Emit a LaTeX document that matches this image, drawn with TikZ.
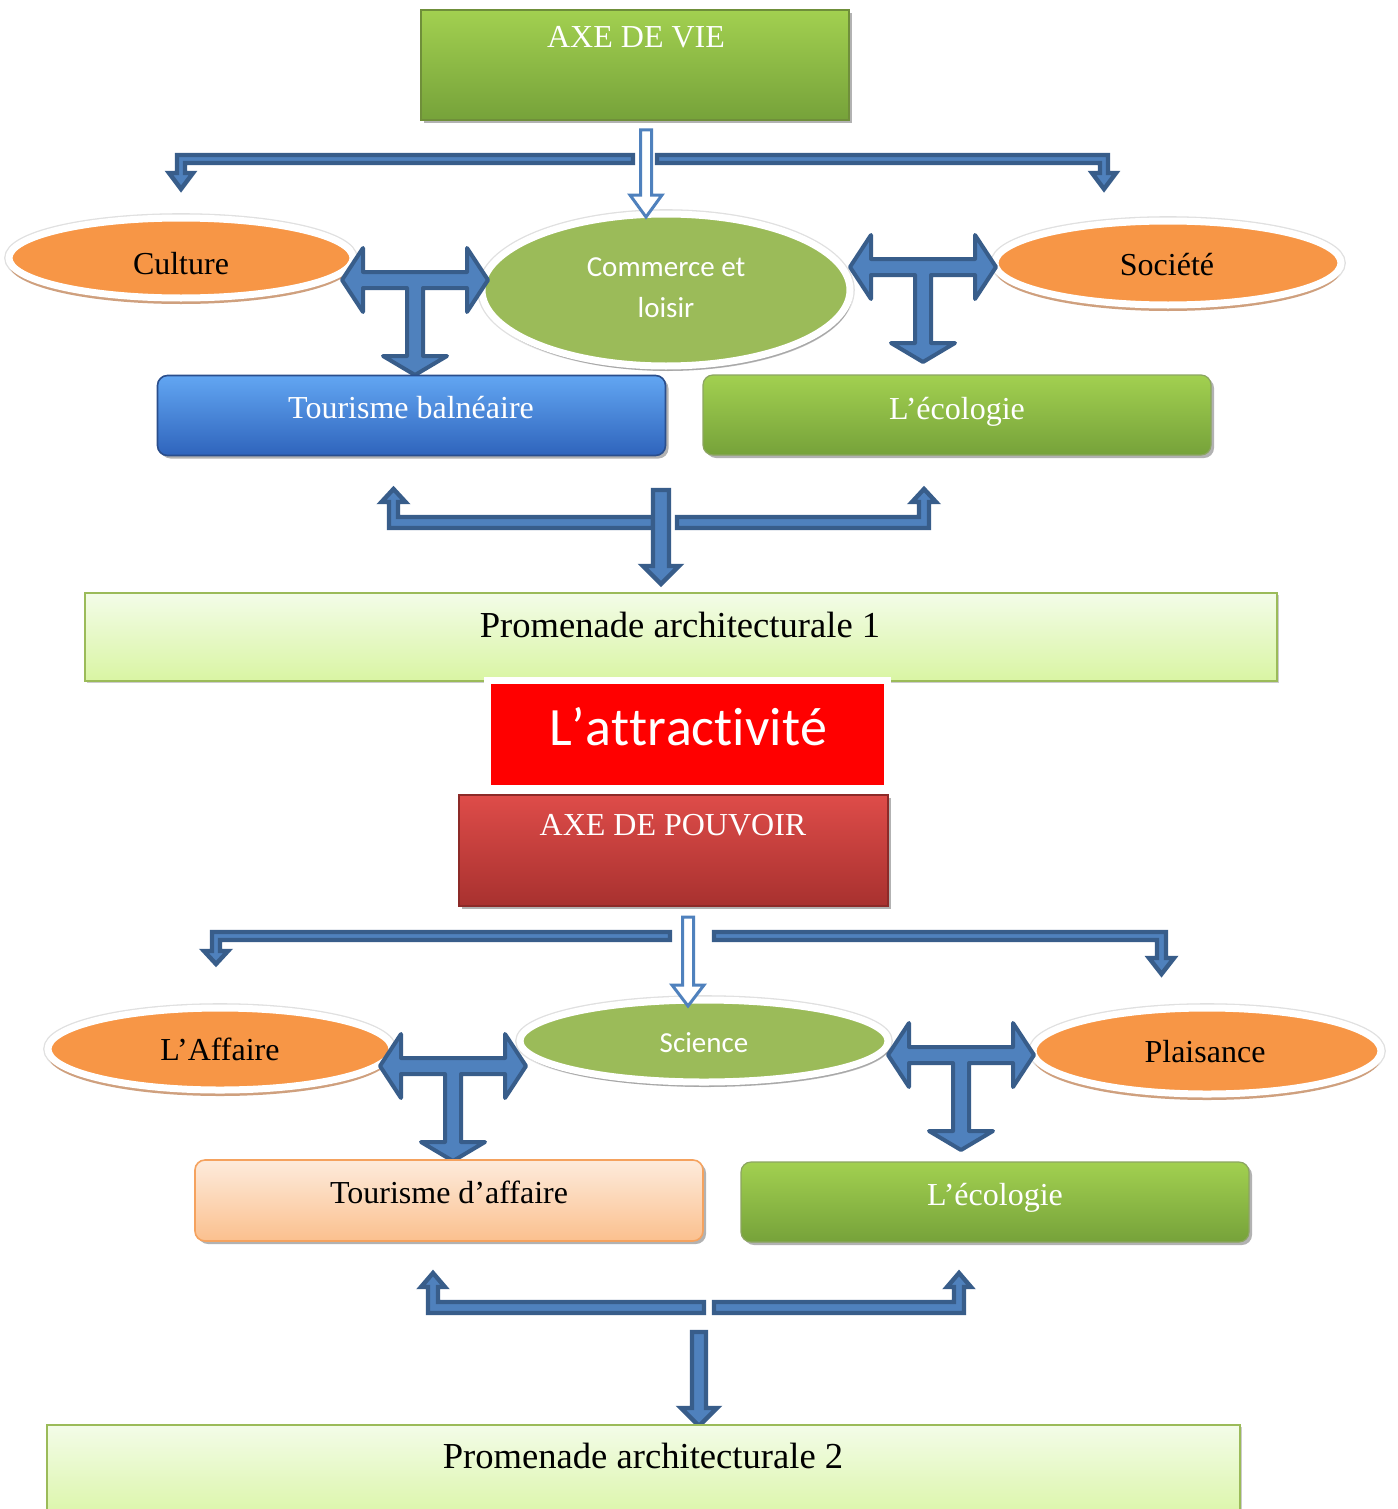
\documentclass[tikz,border=0pt]{standalone}
\usepackage{fontspec}
\setmainfont{Liberation Serif}
\newfontfamily\calib{Carlito}
\newfontfamily\calibwide[Kerning=Off,Ligatures={NoCommon}]{Carlito}
\usetikzlibrary{shapes.geometric,shadows}

\definecolor{arrFill}{HTML}{4F81BD}
\definecolor{arrLine}{HTML}{385D8A}
\definecolor{ovOrange}{HTML}{F79646}
\definecolor{ovTan}{HTML}{CFA07E}
\definecolor{ovGreen}{HTML}{9BBB59}
\definecolor{gTop}{HTML}{A2D050}
\definecolor{gBot}{HTML}{76A23A}
\definecolor{gLine}{HTML}{6F8F3A}
\definecolor{bTop}{HTML}{62A6F2}
\definecolor{bBot}{HTML}{2F64BC}
\definecolor{bLine}{HTML}{2A4E8C}
\definecolor{rTop}{HTML}{DE4C49}
\definecolor{rBot}{HTML}{A8312F}
\definecolor{rLine}{HTML}{8C2A28}
\definecolor{pTop}{HTML}{FDEBDC}
\definecolor{pBot}{HTML}{FBC08E}
\definecolor{pLine}{HTML}{F5A25E}
\definecolor{lTop}{HTML}{F3FCE8}
\definecolor{lBot}{HTML}{D9F5A3}
\definecolor{lLine}{HTML}{9BBB59}
\definecolor{attRed}{HTML}{FF0000}

\tikzset{
  box/.style={rectangle, inner sep=0pt, line width=0.6pt},
  softshadow/.style={drop shadow={shadow xshift=1.5pt, shadow yshift=-1.5pt, opacity=0.3, fill=black}},
  greenbox/.style={box, top color=gTop, bottom color=gBot, draw=gLine, softshadow},
  redbox/.style={box, top color=rTop, bottom color=rBot, draw=rLine, softshadow},
  bluebox/.style={box, rounded corners=5pt, top color=bTop, bottom color=bBot, draw=bLine, line width=0.8pt, softshadow},
  ecobox/.style={box, rounded corners=5pt, top color=gTop, bottom color=gBot, draw=gLine!80, softshadow},
  peachbox/.style={box, rounded corners=5pt, top color=pTop, bottom color=pBot, draw=pLine, line width=0.8pt, softshadow},
  limebox/.style={box, top color=lTop, bottom color=lBot, draw=lLine, line width=0.8pt,
    drop shadow={shadow xshift=1pt, shadow yshift=-1pt, opacity=0.2, fill=black}},
  attbox/.style={box, fill=attRed, draw=white, line width=3.5pt,
    drop shadow={shadow xshift=1pt, shadow yshift=-1.2pt, opacity=0.25, fill=black}},
  ovalbase/.style={ellipse, inner sep=0pt, draw=white, line width=3.5pt,
    preaction={draw=black!12, line width=4.8pt}},
  orangeoval/.style={ovalbase, fill=ovOrange,
    drop shadow={shadow xshift=0pt, shadow yshift=-3pt, opacity=1, fill=ovTan}},
  greenoval/.style={ovalbase, fill=ovGreen,
    drop shadow={shadow xshift=1pt, shadow yshift=-2.5pt, opacity=0.25, fill=black}},
  txt/.style={anchor=base, inner sep=0pt, font=\fontsize{16}{19}\selectfont},
  bigtxt/.style={anchor=base, inner sep=0pt, font=\fontsize{18.3}{21}\selectfont},
  sanstxt/.style={inner sep=0pt, text=white, align=center, font=\calib\fontsize{14.5}{20.5}\selectfont},
  thinarrow/.style={fill=arrFill, draw=arrLine, line width=2.2pt, line join=miter},
  hollowarrow/.style={fill=white, draw=arrFill, line width=1.5pt, line join=miter},
  tblock/.style={fill=arrFill, draw=arrLine, line width=2pt, line join=round},
  teearrow/.pic={
    \filldraw[tblock] (-73,0) -- (-52,-32) -- (-52,-8) -- (52,-8) -- (52,-32) -- (73,0)
      -- (52,32) -- (52,8) -- (8,8) -- (8,76) -- (32,76) -- (0,95) -- (-32,76)
      -- (-8,76) -- (-8,8) -- (-52,8) -- (-52,32) -- cycle;
  }
}

\begin{document}
\begin{tikzpicture}[x=0.5pt, y=-0.5pt]
\fill[white] (0,0) rectangle (1397,1509);
\path[use as bounding box] (0,0) rectangle (1397,1509);

% ---------------- Axe de vie ----------------
\node[greenbox, minimum width=214pt, minimum height=55pt] (axevie) at (635,65) {};
\node[txt, text=white] (axevie-t) at (636,48) {AXE DE VIE};

% branch arrows below the axis box
\filldraw[thinarrow] (633,155) -- (177,155) -- (177,173) -- (169,173) -- (181,189)
  -- (193,173) -- (185,173) -- (185,163) -- (633,163) -- cycle;
\filldraw[thinarrow] (657,155) -- (1108,155) -- (1108,173) -- (1116,173) -- (1104,189)
  -- (1092,173) -- (1100,173) -- (1100,163) -- (657,163) -- cycle;

% themes
\node[orangeoval, minimum width=172pt, minimum height=40pt] (culture) at (181,258) {};
\node[txt] (culture-t) at (181,274) {Culture};
\node[orangeoval, minimum width=173pt, minimum height=42pt] (societe) at (1168,263) {};
\node[txt] (societe-t) at (1167,275) {Société};
\node[greenoval, minimum width=184pt, minimum height=76pt] (commerce) at (666,290) {};
\node[sanstxt] (commerce-t) at (666,288) {Commerce et\\loisir};

\filldraw[hollowarrow] (640.5,130) -- (651.5,130) -- (651.5,195) -- (662,195) -- (646,217)
  -- (630,195) -- (640.5,195) -- cycle;

\pic at (415,280) {teearrow};
\pic at (923,267) {teearrow};

\node[bluebox, minimum width=254pt, minimum height=40pt] (balneaire) at (411.5,415.5) {};
\node[txt, text=white] (balneaire-t) at (411,418) {Tourisme balnéaire};
\node[ecobox, minimum width=254pt, minimum height=40pt] (eco1) at (957,415) {};
\node[txt, text=white] (eco1-t) at (957,419) {L’écologie};

% gathering arrows towards the first walk
\filldraw[thinarrow] (653,517) -- (398,517) -- (398,502) -- (405.5,502) -- (393.5,489)
  -- (381.5,502) -- (389,502) -- (389,528) -- (653,528) -- cycle;
\filldraw[thinarrow] (677,517) -- (919,517) -- (919,502) -- (912,502) -- (924,489)
  -- (936,502) -- (929,502) -- (929,528) -- (677,528) -- cycle;
\filldraw[thinarrow] (653,490) -- (669,490) -- (669,566) -- (679,566) -- (661,584)
  -- (643,566) -- (653,566) -- cycle;

\node[limebox, minimum width=596pt, minimum height=44pt] (prom1) at (681,637) {};
\node[bigtxt] (prom1-t) at (680,637) {Promenade architecturale 1};

% ---------------- central title ----------------
\node[attbox, minimum width=200pt, minimum height=54pt] (attract) at (687.5,734.5) {};
\node[anchor=base, inner sep=0pt, text=white, font=\calibwide\fontsize{27}{31}\selectfont]
  (attract-t) at (688,745) {L’attractivité};

% ---------------- Axe de pouvoir ----------------
\node[redbox, minimum width=214.5pt, minimum height=55.5pt] (axepouvoir) at (673.5,850.5) {};
\node[txt, text=white] (axepouvoir-t) at (673,835) {AXE DE POUVOIR};

\filldraw[thinarrow] (670,932) -- (212,932) -- (212,951) -- (204,951) -- (216,964)
  -- (228,951) -- (220,951) -- (220,940) -- (670,940) -- cycle;
\filldraw[thinarrow] (714,932) -- (1166,932) -- (1166,958) -- (1174,958) -- (1161.5,974)
  -- (1149,958) -- (1157,958) -- (1157,940) -- (714,940) -- cycle;

\node[orangeoval, minimum width=172pt, minimum height=41pt] (affaire) at (220,1049) {};
\node[txt] (affaire-t) at (220,1060) {L’Affaire};
\node[greenoval, minimum width=184pt, minimum height=41pt] (science) at (704,1041) {};
\node[sanstxt] (science-t) at (704,1043) {Science};
\node[orangeoval, minimum width=174pt, minimum height=43pt] (plaisance) at (1207,1051) {};
\node[txt] (plaisance-t) at (1205,1062) {Plaisance};

\filldraw[hollowarrow] (682.5,917) -- (693.5,917) -- (693.5,985) -- (704,985) -- (688,1006)
  -- (672,985) -- (682.5,985) -- cycle;

\pic at (453,1066) {teearrow};
\pic at (961,1055) {teearrow};

\node[peachbox, minimum width=254pt, minimum height=40.5pt] (taffaire) at (449,1200.5) {};
\node[txt] (taffaire-t) at (449,1203) {Tourisme d’affaire};
\node[ecobox, minimum width=254pt, minimum height=40pt] (eco2) at (995,1202) {};
\node[txt, text=white] (eco2-t) at (995,1205) {L’écologie};

% gathering arrows towards the second walk
\filldraw[thinarrow] (704,1302) -- (438,1302) -- (438,1287) -- (445,1287) -- (433,1273)
  -- (421,1287) -- (428,1287) -- (428,1313) -- (704,1313) -- cycle;
\filldraw[thinarrow] (714,1302) -- (954,1302) -- (954,1287) -- (947,1287) -- (959,1273)
  -- (971,1287) -- (964,1287) -- (964,1313) -- (714,1313) -- cycle;
\filldraw[thinarrow] (692,1332) -- (706,1332) -- (706,1408) -- (717,1408) -- (699,1426)
  -- (681,1408) -- (692,1408) -- cycle;

\node[limebox, minimum width=596.5pt, minimum height=50pt] (prom2) at (643.5,1475) {};
\node[bigtxt] (prom2-t) at (643,1468) {Promenade architecturale 2};
\end{tikzpicture}
\end{document}
